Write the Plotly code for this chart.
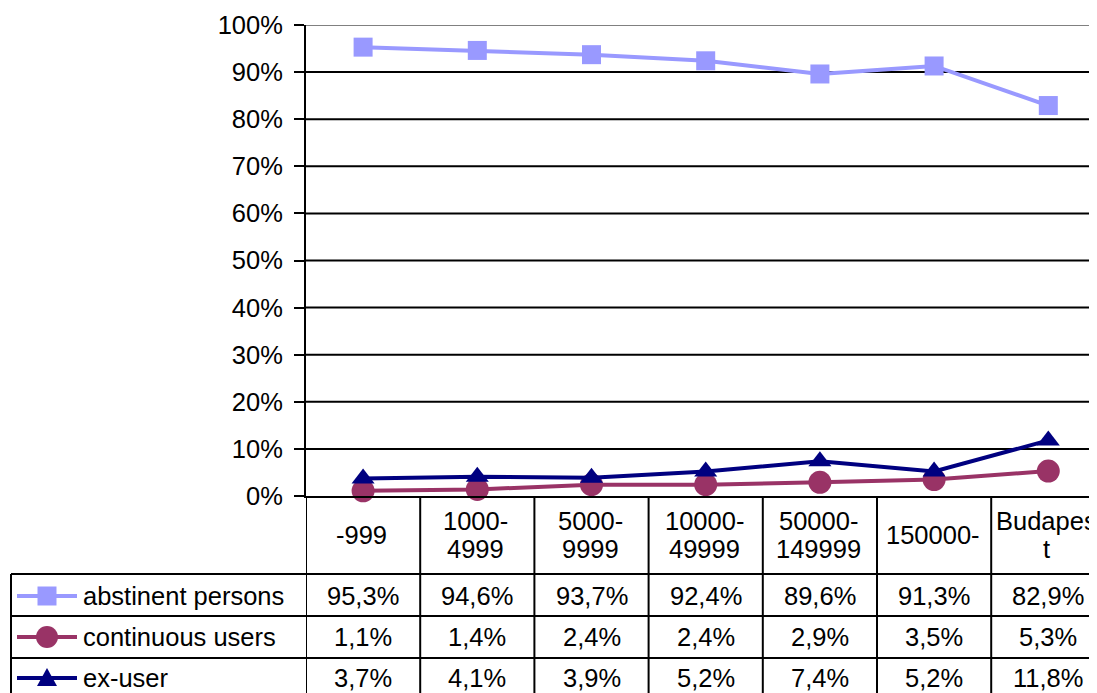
import plotly.graph_objects as go

categories = ["-999", "1000-<br>4999", "5000-<br>9999", "10000-<br>49999", "50000-<br>149999", "150000-", "Budapes<br>t"]
series_names = ["abstinent persons", "continuous users", "ex-user"]
abstinent = [95.3, 94.6, 93.7, 92.4, 89.6, 91.3, 82.9]
continuous = [1.1, 1.4, 2.4, 2.4, 2.9, 3.5, 5.3]
ex_user = [3.7, 4.1, 3.9, 5.2, 7.4, 5.2, 11.8]
y_ticks = [0, 10, 20, 30, 40, 50, 60, 70, 80, 90, 100]

OFF = 8  # page body margin
W, H = 1097 - OFF, 693 - OFF
# page-pixel geometry
P_LEFT, P_TOP, P_BOTTOM, P_RIGHT = 306, 25, 496, 1097
CAT_W = 114.2  # category width in page pixels (table extends past the window)
L = P_LEFT - OFF
T = P_TOP - OFF
R = 0
B = H - (P_BOTTOM - OFF)
PW = W - L - R
PH = H - T - B
FONT = "Liberation Sans, Arial, sans-serif"
FS = 25.5
X_MAX = -0.5 + (P_RIGHT - P_LEFT) / CAT_W


def px_x(p):
    return (p - P_LEFT) / PW


def px_y(p):
    return (P_BOTTOM - p) / PH


colors = ["#9999FF", "#993366", "#000080"]
symbols = ["square", "circle", "triangle-up"]
sizes = [19, 23, 20]
data = [abstinent, continuous, ex_user]
xs = list(range(len(categories)))

fig = go.Figure()
for name, vals, c, s, sz in zip(series_names, data, colors, symbols, sizes):
    fig.add_trace(go.Scatter(
        x=xs, y=[v / 100 for v in vals], mode="lines+markers", name=name,
        line=dict(color=c, width=4), marker=dict(symbol=s, size=sz, color=c),
        cliponaxis=False, showlegend=False))

shapes = []
for t in y_ticks[1:-1]:
    shapes.append(dict(type="line", xref="paper", yref="y", x0=0, x1=1, y0=t / 100, y1=t / 100,
                       line=dict(color="black", width=2), layer="below"))
shapes.append(dict(type="line", xref="paper", yref="y", x0=0, x1=1, y0=1, y1=1,
                   line=dict(color="#808080", width=2), layer="below"))

rows_y = [574, 616, 658]
for ry in rows_y:
    shapes.append(dict(type="line", xref="paper", yref="paper", x0=px_x(11), x1=1, y0=px_y(ry), y1=px_y(ry),
                       line=dict(color="black", width=2)))
shapes.append(dict(type="line", xref="paper", yref="paper", x0=px_x(11), x1=px_x(11), y0=px_y(574), y1=px_y(700),
                   line=dict(color="black", width=2)))
for i in range(len(categories)):
    shapes.append(dict(type="line", xref="x", yref="paper", x0=i - 0.5, x1=i - 0.5, y0=0, y1=px_y(700),
                       line=dict(color="black", width=2)))

annotations = []


def add_text(x, y, text, xref="x", xanchor="center", xshift=0):
    annotations.append(dict(x=x, y=y, xref=xref, yref="paper", text=text, showarrow=False,
                            xanchor=xanchor, yanchor="middle", xshift=xshift,
                            font=dict(family=FONT, size=FS, color="black")))


for i, c in enumerate(categories):
    parts = c.split("<br>")
    if len(parts) == 1:
        add_text(i, px_y(535), parts[0], xshift=-1.5)
    else:
        add_text(i, px_y(521), parts[0], xshift=-1.5)
        add_text(i, px_y(549), parts[1], xshift=-1.5)

row_centers = [596, 637, 678]
for name, vals, c, s, rc in zip(series_names, data, colors, symbols, row_centers):
    for i, v in enumerate(vals):
        add_text(i, px_y(rc), f"{v:.1f}%".replace(".", ","))
    add_text(px_x(81), px_y(rc), name, xref="paper", xanchor="left")
    shapes.append(dict(type="line", xref="paper", yref="paper", x0=px_x(17), x1=px_x(77),
                       y0=px_y(rc), y1=px_y(rc), line=dict(color=c, width=4)))
    cx, cy = 47, rc
    if s == "square":
        shapes.append(dict(type="rect", xref="paper", yref="paper", x0=px_x(cx - 9.5), x1=px_x(cx + 9.5),
                           y0=px_y(cy + 9.5), y1=px_y(cy - 9.5), fillcolor=c, line=dict(width=0)))
    elif s == "circle":
        shapes.append(dict(type="circle", xref="paper", yref="paper", x0=px_x(cx - 11), x1=px_x(cx + 11),
                           y0=px_y(cy + 11), y1=px_y(cy - 11), fillcolor=c, line=dict(width=0)))
    else:
        path = f"M {px_x(cx - 10)} {px_y(cy + 8)} L {px_x(cx + 10)} {px_y(cy + 8)} L {px_x(cx)} {px_y(cy - 10)} Z"
        shapes.append(dict(type="path", xref="paper", yref="paper", path=path, fillcolor=c, line=dict(width=0)))

fig.update_layout(
    width=W, height=H, margin=dict(l=L, r=R, t=T, b=B, pad=0),
    paper_bgcolor="white", plot_bgcolor="white",
    shapes=shapes, annotations=annotations,
    font=dict(family=FONT, size=FS, color="black"),
    xaxis=dict(range=[-0.5, X_MAX], showticklabels=False, showgrid=False,
               zeroline=False, showline=True, linecolor="black", linewidth=2, ticks=""),
    yaxis=dict(range=[0, 1], tickvals=[t / 100 for t in y_ticks], ticktext=[f"{t}%" for t in y_ticks],
               showgrid=False, zeroline=False, showline=True, linecolor="black", linewidth=2,
               ticks="outside", ticklen=10, tickwidth=2, tickcolor="black", ticklabelstandoff=6,
               tickfont=dict(family=FONT, size=FS, color="black")),
)

fig.write_html("out.html")
